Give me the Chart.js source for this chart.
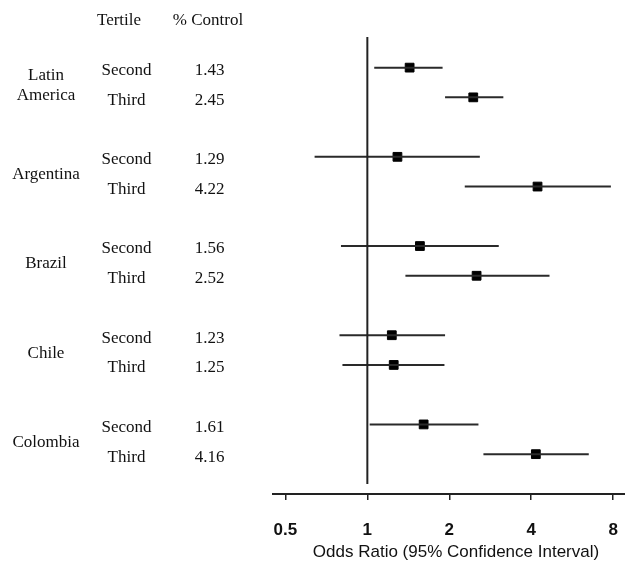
<!DOCTYPE html>
<html>
<head>
<meta charset="utf-8">
<script src="https://cdn.jsdelivr.net/npm/chart.js@4/dist/chart.umd.min.js"></script>
<style>
  html, body { margin: 0; padding: 0; background: #fff; overflow: hidden; }
  /* a little wider than the window: Chart.js keeps a few px of label room on the right */
  #wrap { width: 632px; height: 571px; }
</style>
</head>
<body>
<div id="wrap"><canvas id="forest"></canvas></div>
<script>
'use strict';

// Data
let groups = ['Latin America', 'Argentina', 'Brazil', 'Chile', 'Colombia'];
let tertiles = ['Second', 'Third', 'Second', 'Third', 'Second', 'Third', 'Second', 'Third', 'Second', 'Third'];
let controlLabels = ['1.43', '2.45', '1.29', '4.22', '1.56', '2.52', '1.23', '1.25', '1.61', '4.16'];
let oddsRatio = [1.43, 2.45, 1.29, 4.22, 1.56, 2.52, 1.23, 1.25, 1.61, 4.16];
let ciLow = [1.06, 1.93, 0.64, 2.28, 0.80, 1.38, 0.79, 0.81, 1.02, 2.67];
let ciHigh = [1.89, 3.16, 2.59, 7.85, 3.04, 4.67, 1.93, 1.92, 2.56, 6.51];
let rowPos = [0, 1, 3, 4, 6, 7, 9, 10, 12, 13];
let xTicks = [0.5, 1, 2, 4, 8];
let axisTitle = 'Odds Ratio (95% Confidence Interval)';

// Datasets
let datasets = [];

// reference line at OR = 1
datasets.push({
  data: [{ x: 1, y: -1.03 }, { x: 1, y: 14.0 }],
  borderColor: '#222',
  borderWidth: 2,
  pointRadius: 0,
  showLine: true
});

// confidence intervals
for (let i = 0; i < oddsRatio.length; i++) {
  datasets.push({
    data: [{ x: ciLow[i], y: rowPos[i] }, { x: ciHigh[i], y: rowPos[i] }],
    borderColor: '#2a2a2a',
    borderWidth: 2,
    pointRadius: 0,
    showLine: true
  });
}

// point estimates
let points = [];
for (let i = 0; i < oddsRatio.length; i++) {
  points.push({ x: oddsRatio[i], y: rowPos[i] });
}
datasets.push({
  data: points,
  pointStyle: 'rect',
  pointRadius: 6.2,
  backgroundColor: '#000',
  borderColor: '#000',
  borderWidth: 1,
  showLine: false
});

// left-hand table text
let tablePlugin = {
  id: 'tableText',
  afterDraw(chart) {
    let ctx = chart.ctx;
    let y = chart.scales.y;
    ctx.save();
    ctx.fillStyle = '#111';
    ctx.textAlign = 'center';
    ctx.textBaseline = 'middle';

    ctx.font = '17px "Liberation Serif"';
    ctx.fillText('Tertile', 119, y.getPixelForValue(-1.6));
    ctx.fillText('% Control', 208, y.getPixelForValue(-1.6));

    for (let i = 0; i < rowPos.length; i++) {
      let py = y.getPixelForValue(rowPos[i]) + 3;
      ctx.fillText(tertiles[i], 126.5, py);
      ctx.fillText(controlLabels[i], 209.5, py);
    }

    for (let g = 0; g < groups.length; g++) {
      let mid = (y.getPixelForValue(rowPos[g * 2]) + y.getPixelForValue(rowPos[g * 2 + 1])) / 2 + 3;
      if (groups[g] === 'Latin America') {
        ctx.fillText('Latin', 46, mid - 10.3);
        ctx.fillText('America', 46, mid + 10.3);
      } else {
        ctx.fillText(groups[g], 46, mid);
      }
    }

    // axis title
    ctx.font = '17px "Liberation Sans"';
    ctx.fillText(axisTitle, 456, 552);
    ctx.restore();
  }
};

new Chart(document.getElementById('forest'), {
  type: 'scatter',
  data: { datasets: datasets },
  options: {
    responsive: true,
    maintainAspectRatio: false,
    animation: false,
    layout: { padding: { left: 272.7, top: 37, right: 0, bottom: 0 } },
    plugins: {
      legend: { display: false },
      tooltip: { enabled: false }
    },
    scales: {
      x: {
        type: 'logarithmic',
        min: 0.449,
        max: 8.83,
        afterBuildTicks(scale) {
          scale.ticks = xTicks.map(v => ({ value: v }));
        },
        afterFit(scale) {
          scale.height = 77;
        },
        border: { display: true, color: '#222', width: 2 },
        grid: { drawOnChartArea: false, drawTicks: true, tickLength: 6, color: '#222', lineWidth: 1.5 },
        ticks: {
          autoSkip: false,
          maxRotation: 0,
          padding: 0,
          color: '#111',
          // tall line height pushes the labels down instead of tick padding
          font: { family: '"Liberation Sans"', size: 17, weight: 'bold', lineHeight: 3.55 },
          callback: value => String(value)
        }
      },
      y: {
        display: false,
        min: -1.03,
        max: 14.34,
        reverse: true
      }
    }
  },
  plugins: [tablePlugin]
});
</script>
</body>
</html>
